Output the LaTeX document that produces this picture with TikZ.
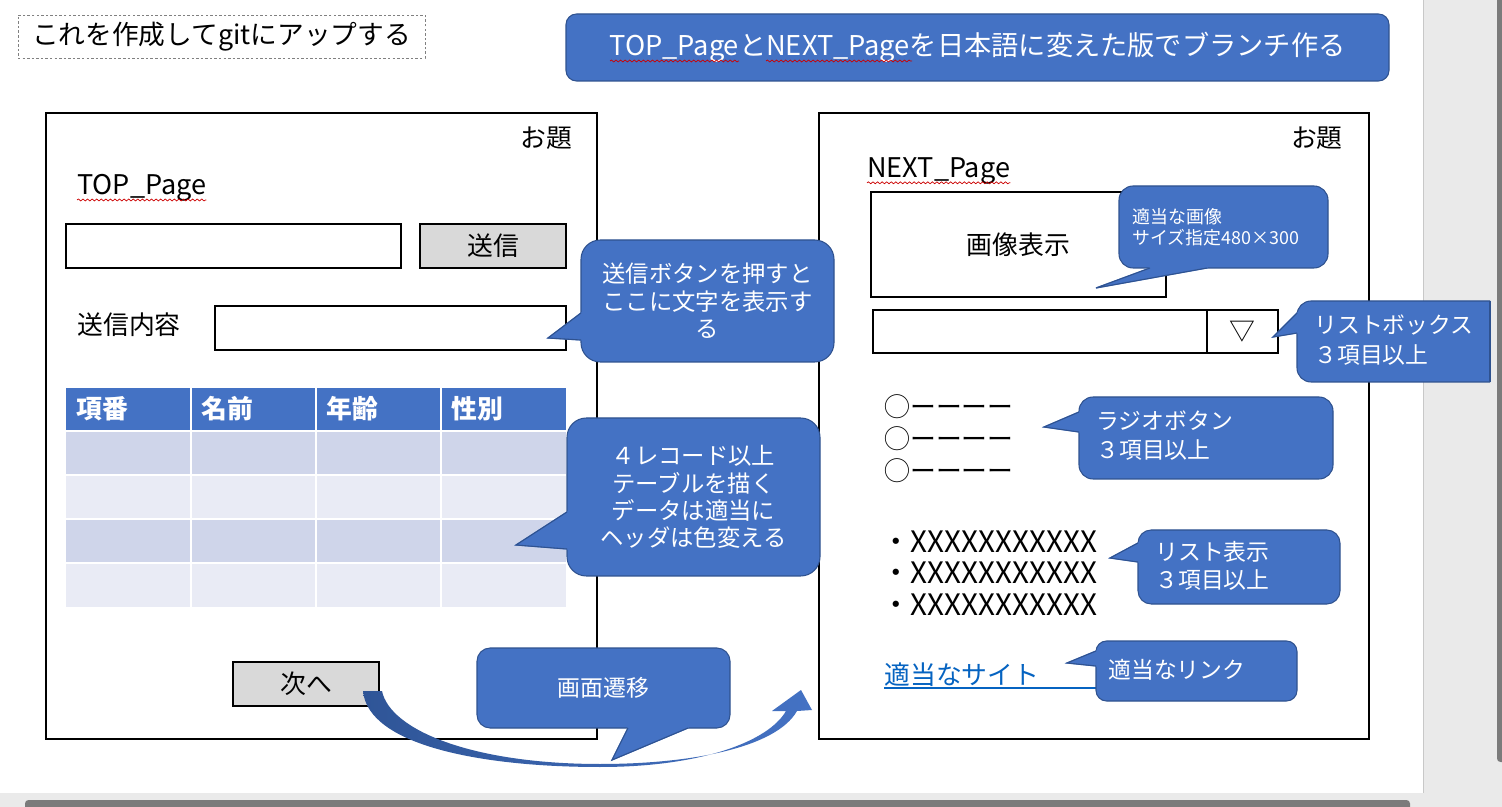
\documentclass[tikz,border=0pt]{standalone}
\usepackage{fontspec}
\setmainfont{Noto Sans CJK JP}
\usetikzlibrary{fit,decorations.pathmorphing}

\definecolor{noteblue}{HTML}{4472C4}
\definecolor{noteedge}{HTML}{2F528F}
\definecolor{btngray}{HTML}{D9D9D9}
\definecolor{rowdark}{HTML}{CFD5EA}
\definecolor{rowlight}{HTML}{E9EBF5}
\definecolor{linkblue}{HTML}{0563C1}
\definecolor{panelgray}{HTML}{EAEAEA}
\definecolor{barstroke}{HTML}{C8C8C8}
\definecolor{bardark}{HTML}{7B7B7B}
\definecolor{arrowdark}{HTML}{2F5597}

\begin{document}
\begin{tikzpicture}[
    x=0.02cm, y=-0.02cm,
    uitext/.style={inner sep=0pt, font=\fontsize{14.7}{17}\selectfont},
    pagelabel/.style={inner sep=0pt, font=\fontsize{15.4}{17}\selectfont},
    pageframe/.style={draw=black, line width=0.6pt, inner sep=0pt},
    inputfield/.style={draw=black, line width=0.6pt, inner sep=0pt},
    button/.style={inputfield, fill=btngray},
    memobox/.style={draw=gray, dash pattern=on 1.4pt off 1.2pt,
        line width=0.5pt, inner sep=0pt},
    notebox/.style={fill=noteblue, draw=noteedge, line width=0.6pt,
        rounded corners=8pt, inner sep=0pt},
    notetext/.style={inner sep=0pt, text=white, align=left,
        font=\fontsize{13}{16.5}\selectfont},
    notetip/.style={fill=noteblue, draw=noteblue, line width=0.7pt},
    tipedge/.style={draw=noteedge, line width=0.6pt},
    headtext/.style={inner sep=0pt, text=white,
        font=\fontsize{14.7}{17}\selectfont\bfseries},
    listtext/.style={inner sep=0pt, font=\fontsize{16.8}{17}\selectfont},
    squiggle/.style={draw=red!80!black, line width=0.4pt, decorate,
        decoration={snake, amplitude=0.55pt, segment length=2.6pt}},
    tablegrid/.style={draw=white, line width=1.2pt}
]
\useasboundingbox (0,0) rectangle (1502,807);

% window
\fill[white] (0,0) rectangle (1423,793);
\fill[panelgray] (1423,0) rectangle (1502,807);
\fill[panelgray] (0,793) rectangle (1423,807);
\draw[barstroke] (1423,0) -- (1423,793);
\fill[bardark, rounded corners=2pt] (1497,-5) rectangle (1506,762);
\fill[bardark, rounded corners=2pt] (25,800) rectangle (1410,812);

% header
\node[memobox, fit={(18,15) (425,58)}] (memo) {};
\node[uitext, font=\fontsize{15.2}{17}\selectfont] (memotext) at (memo.center)
    {これを作成してgitにアップする};
\node[notebox, rounded corners=6pt, fit={(566,14) (1389,81)}] (title) {};
\node[inner sep=0pt, text=white, font=\fontsize{15.5}{18}\selectfont] (titletext)
    at (title.center) {TOP\_PageとNEXT\_Pageを日本語に変えた版でブランチ作る};
\draw[squiggle] (610,61) -- (739,61);
\draw[squiggle] (766,61) -- (912,61);

% TOP page
\node[pageframe, fit={(46,113) (597,739)}] (toppage) {};
\node[uitext, anchor=east] (topodai) at (573,138) {お題};
\node[pagelabel, anchor=west] (toplabel) at (77,188) {TOP\_Page};
\draw[squiggle] ([yshift=-3pt]toplabel.base west) -- ([yshift=-3pt]toplabel.base east);
\node[inputfield, fit={(66,224) (401,268)}] (sendinput) {};
\node[button, fit={(420,224) (566,268)}] (sendbtn) {};
\node[uitext] (sendbtntext) at (sendbtn.center) {送信};
\node[uitext, anchor=west] (sendlabel) at (77,325) {送信内容};
\node[inputfield, fit={(215,306) (566,350)}] (sendoutput) {};

% table
\fill[noteblue] (66,388) rectangle (566,431);
\foreach \r/\c in {0/rowdark,1/rowlight,2/rowdark,3/rowlight}
    \fill[\c] (66,{431+44*\r}) rectangle (566,{475+44*\r});
\foreach \x in {191,316,441}
    \draw[tablegrid] (\x,388) -- (\x,607);
\foreach \y in {431,475,519,563}
    \draw[tablegrid] (66,\y) -- (566,\y);
\foreach \x/\t [count=\i] in {76/項番,201/名前,326/年齢,451/性別}
    \node[headtext, anchor=west] (head\i) at (\x,409) {\t};

\node[button, fit={(233,662) (379,706)}] (nextbtn) {};
\node[uitext] (nextbtntext) at (nextbtn.center) {次へ};

% NEXT page
\node[pageframe, fit={(819,113) (1369,739)}] (nextpage) {};
\node[uitext, anchor=east] (nextodai) at (1343,138) {お題};
\node[pagelabel, anchor=west] (nextlabel) at (867,171) {NEXT\_Page};
\draw[squiggle] ([yshift=-3pt]nextlabel.base west) -- ([yshift=-3pt]nextlabel.base east);
\node[inputfield, fit={(871,192) (1166,297)}] (imagebox) {};
\node[uitext] (imageboxtext) at (imagebox.center) {画像表示};
\node[inputfield, fit={(873,310) (1207,353)}] (selectbox) {};
\node[inputfield, fit={(1207,310) (1278,353)}] (selectbtn) {};
\node[uitext] (selectbtntext) at (selectbtn.center) {▽};
\foreach \y [count=\i] in {407,439,471}
    \node[uitext, anchor=west] (radio\i) at (884,\y) {◯ーーーー};
\foreach \y [count=\i] in {542,573,605}
    \node[listtext, anchor=west] (item\i) at (881,\y) {・XXXXXXXXXXX};
\node[uitext, text=linkblue, anchor=west] (sitelink) at (884,675) {適当なサイト};
\draw[linkblue, line width=1.1pt] (884,688) -- (1097,688);

% page transition arrow
\shade[left color=arrowdark, right color=noteblue]
    (363,691) .. controls (368,745) and (480,767) .. (600,767)
    .. controls (700,767) and (768,742) .. (786,711)
    -- (772,711) -- (801,690) -- (812,710) -- (797,711)
    .. controls (776,748) and (690,764) .. (600,764)
    .. controls (472,764) and (390,730) .. (382,691) -- cycle;

% notes
\node[notebox, rounded corners=11pt, fit={(581,240) (834,362)}] (sendnote) {};
\coordinate (sendtip) at (548,338);
\filldraw[notetip] (581,313) -- (sendtip) -- (581,340) -- (590,340) -- (590,313) -- cycle;
\draw[tipedge] (581,313) -- (sendtip) -- (581,340);
\node[notetext, align=center, font=\fontsize{13.3}{15.6}\selectfont] (sendnotetext)
    at (sendnote.center) {送信ボタンを押すと\\ここに文字を表示す\\る};

\node[notebox, rounded corners=11pt, fit={(567,418) (820,576)}] (tablenote) {};
\coordinate (tabletip) at (516,545);
\filldraw[notetip] (567,512) -- (tabletip) -- (567,549) -- (576,549) -- (576,512) -- cycle;
\draw[tipedge] (567,512) -- (tabletip) -- (567,549);
\node[notetext, align=center, font=\fontsize{13.3}{15.5}\selectfont] (tablenotetext)
    at (tablenote.center) {４レコード以上\\テーブルを描く\\データは適当に\\ヘッダは色変える};

\node[notebox, rounded corners=7.5pt, fit={(477,648) (730,728)}] (movenote) {};
\coordinate (movetip) at (612,760);
\filldraw[notetip] (628,728) -- (movetip) -- (688,728) -- (688,719) -- (628,719) -- cycle;
\draw[tipedge] (628,728) -- (movetip) -- (688,728);
\node[notetext] (movenotetext) at (movenote.center) {画面遷移};

\node[notebox, fit={(1119,186) (1328,268)}] (imagenote) {};
\coordinate (imagetip) at (1096,288);
\filldraw[notetip] (1150,268) -- (imagetip) -- (1207,268) -- (1207,259) -- (1150,259) -- cycle;
\draw[tipedge] (1150,268) -- (imagetip) -- (1207,268);
\node[notetext, font=\fontsize{10.2}{11.9}\selectfont, anchor=west] (imagenotetext)
    at (1132,227) {適当な画像\\サイズ指定480×300};

\begin{scope}
    \clip (1260,290) rectangle (1490,395);
    \node[notebox, fit={(1297,301) (1520,382)}] (listboxnote) {};
\end{scope}
\draw[tipedge] (1490,301) -- (1490,382);
\coordinate (listboxtip) at (1273,337);
\filldraw[notetip] (1297,313) -- (listboxtip) -- (1297,333) -- (1306,333) -- (1306,313) -- cycle;
\draw[tipedge] (1297,313) -- (listboxtip) -- (1297,333);
\node[notetext, font=\fontsize{13}{17}\selectfont, anchor=west] (listboxnotetext)
    at (1314,340) {リストボックス\\３項目以上};

\node[notebox, fit={(1079,397) (1333,479)}] (radionote) {};
\coordinate (radiotip) at (1044,427);
\filldraw[notetip] (1079,412) -- (radiotip) -- (1079,432) -- (1088,432) -- (1088,412) -- cycle;
\draw[tipedge] (1079,412) -- (radiotip) -- (1079,432);
\node[notetext, font=\fontsize{13}{16.4}\selectfont, anchor=west] (radionotetext)
    at (1096,436) {ラジオボタン\\３項目以上};

\node[notebox, rounded corners=7.5pt, fit={(1138,530) (1340,604)}] (listnote) {};
\coordinate (listtip) at (1110,558);
\filldraw[notetip] (1138,543) -- (listtip) -- (1138,562) -- (1147,562) -- (1147,543) -- cycle;
\draw[tipedge] (1138,543) -- (listtip) -- (1138,562);
\node[notetext, font=\fontsize{13}{15.9}\selectfont, anchor=west] (listnotetext)
    at (1155,566) {リスト表示\\３項目以上};

\node[notebox, rounded corners=6pt, fit={(1096,641) (1297,701)}] (linknote) {};
\coordinate (linktip) at (1067,663);
\filldraw[notetip] (1096,651) -- (linktip) -- (1096,666) -- (1105,666) -- (1105,651) -- cycle;
\draw[tipedge] (1096,651) -- (linktip) -- (1096,666);
\node[notetext, anchor=west] (linknotetext) at (1108,670) {適当なリンク};
\end{tikzpicture}
\end{document}
